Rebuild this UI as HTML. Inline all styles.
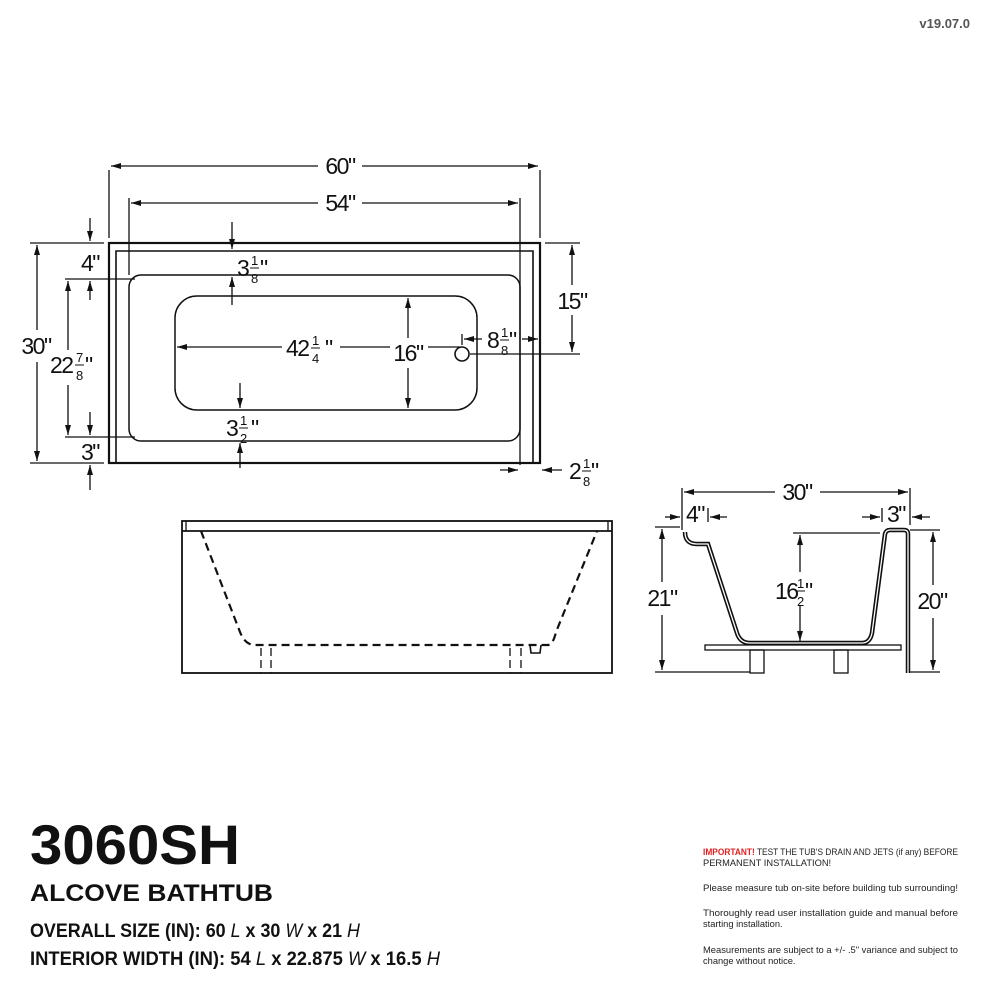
<!DOCTYPE html>
<html><head><meta charset="utf-8"><style>
html,body{margin:0;padding:0;background:#fff}
svg{display:block}
.d{font-family:"Liberation Sans Narrow","Liberation Sans",sans-serif;font-size:23px;fill:#111;letter-spacing:-1.5px}
.f{font-family:"Liberation Sans Narrow","Liberation Sans",sans-serif;font-size:13px;fill:#111}
.t{font-family:"Liberation Sans",sans-serif;font-weight:bold;fill:#111}
.n{font-family:"Liberation Sans",sans-serif;font-size:9.3px;fill:#222}
</style></head><body>
<svg width="990" height="988" viewBox="0 0 990 988" xmlns="http://www.w3.org/2000/svg">
<defs>
<marker id="a" viewBox="0 0 10 6" refX="10" refY="3" markerWidth="10" markerHeight="6" markerUnits="userSpaceOnUse" orient="auto-start-reverse"><path d="M0,0L10,3L0,6z" fill="#111"/></marker>
</defs>
<text x="970" y="28" text-anchor="end" class="t" style="font-size:13px;fill:#555">v19.07.0</text>

<g stroke="#111" fill="none" stroke-width="1.3">
<rect x="109" y="243" width="431" height="220" stroke-width="2.2"/>
<polyline points="116,463 116,251 533,251 533,463" stroke-width="1.6"/>
<rect x="129" y="275" width="391" height="166" rx="12" stroke-width="1.5"/>
<rect x="175" y="296" width="302" height="114" rx="22" stroke-width="1.5"/>
<circle cx="462" cy="354" r="7" stroke-width="1.6"/>
<line x1="109" y1="170" x2="109" y2="238"/><line x1="540" y1="170" x2="540" y2="238"/>
<line x1="111" y1="166" x2="318" y2="166" marker-start="url(#a)"/><line x1="362" y1="166" x2="538" y2="166" marker-end="url(#a)"/>
<line x1="129" y1="198" x2="129" y2="275"/><line x1="520" y1="198" x2="520" y2="465"/>
<line x1="131" y1="203" x2="318" y2="203" marker-start="url(#a)"/><line x1="362" y1="203" x2="518" y2="203" marker-end="url(#a)"/>
<line x1="30" y1="243" x2="104" y2="243"/><line x1="30" y1="463" x2="104" y2="463"/>
<line x1="37" y1="245" x2="37" y2="330" marker-start="url(#a)"/><line x1="37" y1="362" x2="37" y2="461" marker-end="url(#a)"/>
<line x1="65" y1="279" x2="135" y2="279"/><line x1="65" y1="437" x2="135" y2="437"/>
<line x1="68" y1="281" x2="68" y2="350" marker-start="url(#a)"/><line x1="68" y1="385" x2="68" y2="435" marker-end="url(#a)"/>
<line x1="90" y1="218" x2="90" y2="241" marker-end="url(#a)"/>
<line x1="90" y1="300" x2="90" y2="281" marker-end="url(#a)"/>
<line x1="90" y1="412" x2="90" y2="435" marker-end="url(#a)"/>
<line x1="90" y1="490" x2="90" y2="465" marker-end="url(#a)"/>
<line x1="232" y1="222" x2="232" y2="249" marker-end="url(#a)"/>
<line x1="232" y1="305" x2="232" y2="277" marker-end="url(#a)"/>
<line x1="240" y1="383" x2="240" y2="408" marker-end="url(#a)"/>
<line x1="240" y1="468" x2="240" y2="443" marker-end="url(#a)"/>
<line x1="177" y1="347" x2="282" y2="347" marker-start="url(#a)"/><line x1="340" y1="347" x2="390" y2="347"/><line x1="428" y1="347" x2="460" y2="347"/>
<line x1="408" y1="298" x2="408" y2="338" marker-start="url(#a)"/><line x1="408" y1="368" x2="408" y2="408" marker-end="url(#a)"/>
<line x1="462" y1="334" x2="462" y2="345"/>
<line x1="464" y1="339" x2="482" y2="339" marker-start="url(#a)"/><line x1="522" y1="339" x2="538" y2="339" marker-end="url(#a)"/>
<line x1="545" y1="243" x2="580" y2="243"/><line x1="470" y1="354" x2="580" y2="354"/>
<line x1="572" y1="245" x2="572" y2="285" marker-start="url(#a)"/><line x1="572" y1="315" x2="572" y2="352" marker-end="url(#a)"/>
<line x1="500" y1="470" x2="518" y2="470" marker-end="url(#a)"/>
<line x1="562" y1="470" x2="542" y2="470" marker-end="url(#a)"/>

<rect x="182" y="521" width="430" height="152" stroke-width="1.8"/>
<line x1="182" y1="531" x2="612" y2="531" stroke-width="1.8"/>
<line x1="186" y1="521" x2="186" y2="531"/><line x1="608" y1="521" x2="608" y2="531"/>
<path d="M201,531 L240,632 Q245,645 255,645 L540,645 L548,645 Q553,645 556,632 L597,531" stroke-dasharray="8,5" stroke-width="2.2"/>
<path d="M530,645 L531,653 L540,653 L541,645" stroke-width="1.6"/>
<line x1="261" y1="648" x2="261" y2="673" stroke-dasharray="8,4"/>
<line x1="271" y1="648" x2="271" y2="673" stroke-dasharray="8,4"/>
<line x1="510" y1="648" x2="510" y2="673" stroke-dasharray="8,4"/>
<line x1="521" y1="648" x2="521" y2="673" stroke-dasharray="8,4"/>

<path d="M685,532 Q685,544 697,544 L708,544 L737,633 Q740,643 750,643 L862,643 Q870,643 872,633 L885,534 Q886,530 890,530 L904,530 Q908,530 908,534 L908,673" stroke-width="4.5"/>
<path d="M685,532 Q685,544 697,544 L708,544 L737,633 Q740,643 750,643 L862,643 Q870,643 872,633 L885,534 Q886,530 890,530 L904,530 Q908,530 908,534 L908,673" stroke="#fff" stroke-width="1.3"/>
<rect x="705" y="645" width="196" height="5" stroke-width="1.3"/>
<rect x="750" y="650" width="14" height="23"/>
<rect x="834" y="650" width="14" height="23"/>
<line x1="682" y1="488" x2="682" y2="530"/><line x1="910" y1="488" x2="910" y2="525"/>
<line x1="684" y1="492" x2="775" y2="492" marker-start="url(#a)"/><line x1="820" y1="492" x2="908" y2="492" marker-end="url(#a)"/>
<line x1="665" y1="517" x2="680" y2="517" marker-end="url(#a)"/>
<line x1="727" y1="517" x2="710" y2="517" marker-end="url(#a)"/>
<line x1="708" y1="508" x2="708" y2="522"/>
<line x1="862" y1="517" x2="880" y2="517" marker-end="url(#a)"/>
<line x1="930" y1="517" x2="912" y2="517" marker-end="url(#a)"/>
<line x1="882" y1="508" x2="882" y2="522"/>
<line x1="655" y1="527" x2="680" y2="527"/><line x1="655" y1="672" x2="750" y2="672"/>
<line x1="662" y1="529" x2="662" y2="582" marker-start="url(#a)"/><line x1="662" y1="615" x2="662" y2="670" marker-end="url(#a)"/>
<line x1="793" y1="533" x2="880" y2="533"/>
<line x1="800" y1="535" x2="800" y2="572" marker-start="url(#a)"/><line x1="800" y1="606" x2="800" y2="641" marker-end="url(#a)"/>
<line x1="910" y1="530" x2="940" y2="530"/><line x1="910" y1="672" x2="940" y2="672"/>
<line x1="933" y1="532" x2="933" y2="585" marker-start="url(#a)"/><line x1="933" y1="618" x2="933" y2="670" marker-end="url(#a)"/>
</g>

<text class="d" x="340" y="174" text-anchor="middle">60"</text>
<text class="d" x="340" y="211" text-anchor="middle">54"</text>
<text class="d" x="36" y="354" text-anchor="middle">30"</text>
<text class="d" x="90" y="271" text-anchor="middle">4"</text>
<text class="d" x="90" y="460" text-anchor="middle">3"</text>
<text class="d" x="572" y="309" text-anchor="middle">15"</text>
<text class="d" x="408" y="361" text-anchor="middle">16"</text>
<text class="d" x="662" y="606" text-anchor="middle">21"</text>
<text class="d" x="932" y="609" text-anchor="middle">20"</text>
<text class="d" x="797" y="500" text-anchor="middle">30"</text>
<text class="d" x="695" y="522" text-anchor="middle">4"</text>
<text class="d" x="896" y="522" text-anchor="middle">3"</text>
<g>
<text class="d" x="50" y="373">22</text><text class="f" x="76" y="362">7</text><line x1="75" y1="365" x2="84" y2="365" stroke="#111"/><text class="f" x="76" y="380">8</text><text class="d" x="85" y="373">"</text>
<text class="d" x="237" y="276">3</text><text class="f" x="251" y="265">1</text><line x1="250" y1="268" x2="259" y2="268" stroke="#111"/><text class="f" x="251" y="283">8</text><text class="d" x="260" y="276">"</text>
<text class="d" x="226" y="436">3</text><text class="f" x="240" y="425">1</text><line x1="239" y1="428" x2="248" y2="428" stroke="#111"/><text class="f" x="240" y="443">2</text><text class="d" x="251" y="436">"</text>
<text class="d" x="286" y="356">42</text><text class="f" x="312" y="345">1</text><line x1="311" y1="348" x2="320" y2="348" stroke="#111"/><text class="f" x="312" y="363">4</text><text class="d" x="325" y="356">"</text>
<text class="d" x="487" y="348">8</text><text class="f" x="501" y="337">1</text><line x1="500" y1="340" x2="509" y2="340" stroke="#111"/><text class="f" x="501" y="355">8</text><text class="d" x="509" y="348">"</text>
<text class="d" x="569" y="479">2</text><text class="f" x="583" y="468">1</text><line x1="582" y1="471" x2="591" y2="471" stroke="#111"/><text class="f" x="583" y="486">8</text><text class="d" x="591" y="479">"</text>
<text class="d" x="775" y="599">16</text><text class="f" x="797" y="588">1</text><line x1="796" y1="591" x2="805" y2="591" stroke="#111"/><text class="f" x="797" y="606">2</text><text class="d" x="805" y="599">"</text>
</g>

<text class="t" x="30" y="864" style="font-size:56px" textLength="210" lengthAdjust="spacingAndGlyphs">3060SH</text>
<text class="t" x="30" y="901" style="font-size:24px" textLength="243" lengthAdjust="spacingAndGlyphs">ALCOVE BATHTUB</text>
<text class="t" x="30" y="937" style="font-size:19px" textLength="330" lengthAdjust="spacingAndGlyphs">OVERALL SIZE (IN): 60 <tspan font-style="italic" font-weight="normal">L</tspan> x 30 <tspan font-style="italic" font-weight="normal">W</tspan> x 21 <tspan font-style="italic" font-weight="normal">H</tspan></text>
<text class="t" x="30" y="965" style="font-size:19px" textLength="410" lengthAdjust="spacingAndGlyphs">INTERIOR WIDTH (IN): 54 <tspan font-style="italic" font-weight="normal">L</tspan> x 22.875 <tspan font-style="italic" font-weight="normal">W</tspan> x 16.5 <tspan font-style="italic" font-weight="normal">H</tspan></text>

<text class="n" x="703" y="855" textLength="255" lengthAdjust="spacingAndGlyphs"><tspan fill="#e02020" font-weight="bold">IMPORTANT!</tspan> TEST THE TUB'S DRAIN AND JETS (if any) BEFORE</text>
<text class="n" x="703" y="866">PERMANENT INSTALLATION!</text>
<text class="n" x="703" y="891" textLength="255" lengthAdjust="spacingAndGlyphs">Please measure tub on-site before building tub surrounding!</text>
<text class="n" x="703" y="916" textLength="255" lengthAdjust="spacingAndGlyphs">Thoroughly read user installation guide and manual before</text>
<text class="n" x="703" y="927">starting installation.</text>
<text class="n" x="703" y="953" textLength="255" lengthAdjust="spacingAndGlyphs">Measurements are subject to a +/- .5" variance and subject to</text>
<text class="n" x="703" y="964">change without notice.</text>
</svg>
</body></html>
